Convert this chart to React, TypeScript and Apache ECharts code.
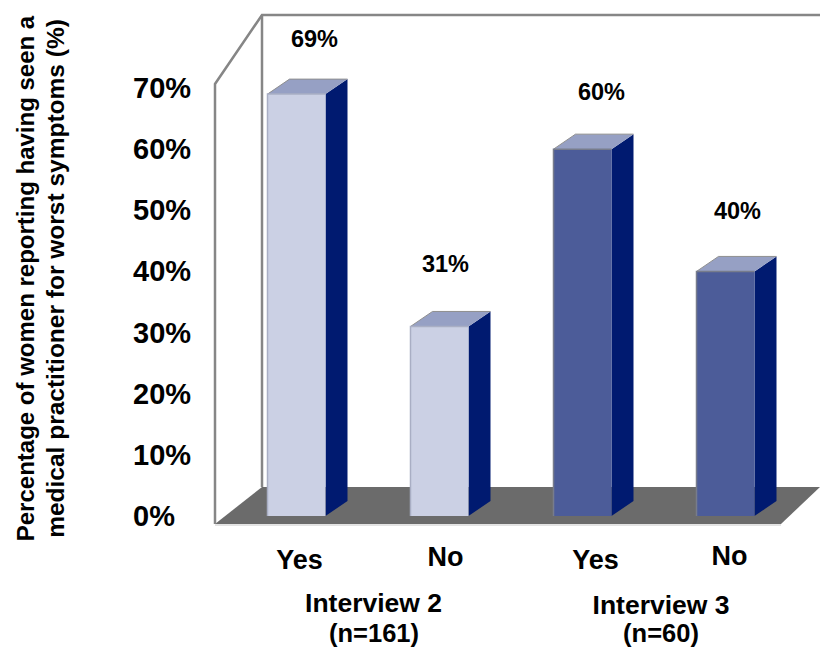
import React, { useEffect, useRef } from "react";
import * as echarts from "echarts";

const answers = ["Yes", "No", "Yes", "No"];
const percentages = [69, 31, 60, 40];
const percentLabels = ["69%", "31%", "60%", "40%"];
const tickStep = 10;
const axisMax = 70;
const interviewOfBar = [0, 0, 1, 1];
const interviewTitles = ["Interview 2\n(n=161)", "Interview 3\n(n=60)"];
const titleLines = [
  "Percentage of women reporting having seen a",
  "medical practitioner for worst symptoms (%)",
];

const FONT = "Liberation Sans";
const GRID = { left: 225, width: 572, top: 88, height: 428 };
const BAR_W = 58;
const DEPTH = { x: 22, y: -15 };
const FRONT = ["#cbd0e4", "#4c5c99"];
const EDGE = ["#a9aec4", "#777c8c"];
const TOP = "#96a0c4";
const SIDE = "#001a70";
const WALL = "#868686";
const FLOOR = "#6b6b6b";
// label placement relative to each bar's front top-centre
const labelOffsets = [
  [18, -55],
  [6, -62],
  [19, -57],
  [12, -60],
];
const catShift = [3, 6, 13, 4];
const catDrop = [4.5, 1.5, 4.5, 0];

const renderBar = (params: any, api: any) => {
  const i = api.value(0);
  const v = api.value(1);
  const [cx, base] = api.coord([i, 0]);
  const [, top] = api.coord([i, v]);
  const l = cx - BAR_W / 2;
  const r = cx + BAR_W / 2;
  const g = interviewOfBar[i];
  const off = labelOffsets[i];
  return {
    type: "group",
    children: [
      {
        type: "polygon",
        shape: { points: [[r, top], [r + DEPTH.x, top + DEPTH.y], [r + DEPTH.x, base + DEPTH.y], [r, base]] },
        style: { fill: SIDE },
      },
      {
        type: "polygon",
        shape: { points: [[l, top], [l + DEPTH.x, top + DEPTH.y], [r + DEPTH.x, top + DEPTH.y], [r, top]] },
        style: { fill: TOP },
      },
      {
        type: "polyline",
        shape: { points: [[l, top], [l + DEPTH.x, top + DEPTH.y], [r + DEPTH.x, top + DEPTH.y]] },
        style: { fill: "none", stroke: "#8f8f8f", lineWidth: 1 },
      },
      {
        type: "rect",
        shape: { x: l, y: top, width: BAR_W, height: base - top },
        style: { fill: FRONT[g] },
      },
      {
        type: "polyline",
        shape: { points: [[l, base], [l, top], [r, top]] },
        style: { fill: "none", stroke: EDGE[g], lineWidth: 1.5 },
      },
      {
        type: "text",
        x: cx + off[0],
        y: top + off[1],
        style: {
          text: percentLabels[i],
          fontFamily: FONT,
          fontWeight: "bold",
          fontSize: 23.5,
          fill: "#000",
          align: "center",
          verticalAlign: "middle",
        },
      },
    ],
  };
};

const bold = (text: string, x: number, y: number, fontSize: number, extra: any = {}) => ({
  type: "text",
  x,
  y,
  ...extra,
  style: {
    text,
    fontFamily: FONT,
    fontWeight: "bold",
    fontSize,
    fill: "#000",
    align: "center",
    verticalAlign: "middle",
  },
});

export default function App() {
  const ref = useRef<HTMLDivElement>(null);
  useEffect(() => {
    const chart = echarts.init(ref.current!, null, { renderer: "svg" });
    chart.setOption({
      animation: false,
      backgroundColor: "#fff",
      grid: { ...GRID, containLabel: false },
      xAxis: {
        type: "category",
        data: answers.map((a, i) => ({
          value: a,
          textStyle: { padding: [catDrop[i], 0, 0, catShift[i] * 2] },
        })),
        axisLine: { show: false },
        axisTick: { show: false },
        splitLine: { show: false },
        axisLabel: {
          fontFamily: FONT,
          fontWeight: "bold",
          fontSize: 27,
          color: "#000",
          margin: 26,
          interval: 0,
        },
      },
      yAxis: {
        type: "value",
        min: 0,
        max: axisMax,
        interval: tickStep,
        axisLine: { show: false },
        axisTick: { show: false },
        splitLine: { show: false },
        axisLabel: {
          formatter: "{value}%",
          fontFamily: FONT,
          fontWeight: "bold",
          fontSize: 29,
          color: "#000",
          align: "left",
          margin: 92,
          padding: [0, 0, 6, 0],
        },
      },
      graphic: [
        {
          type: "polygon",
          z: -1,
          shape: { points: [[215, 524], [262, 487], [820, 487], [781, 524]] },
          style: { fill: FLOOR },
        },
        {
          type: "line",
          z: -1,
          shape: { x1: 215, y1: 525, x2: 781, y2: 525 },
          style: { stroke: "#c8c8c8", lineWidth: 1 },
        },
        {
          type: "polyline",
          z: -1,
          shape: { points: [[215, 524], [215, 84], [262, 15], [820, 15]] },
          style: { fill: "none", stroke: WALL, lineWidth: 2.5 },
        },
        {
          type: "line",
          z: -1,
          shape: { x1: 262, y1: 15, x2: 262, y2: 487 },
          style: { stroke: WALL, lineWidth: 2.5 },
        },
        bold(titleLines[0], 25, 278.5, 24, { rotation: Math.PI / 2 }),
        bold(titleLines[1], 55, 278.5, 24.5, { rotation: Math.PI / 2 }),
        bold(interviewTitles[0].split("\n")[0], 373.5, 603, 26.5),
        bold(interviewTitles[0].split("\n")[1], 374, 633, 25.5),
        bold(interviewTitles[1].split("\n")[0], 661, 605, 26.5),
        bold(interviewTitles[1].split("\n")[1], 661, 633, 25.5),
      ],
      series: [
        {
          type: "custom",
          coordinateSystem: "cartesian2d",
          renderItem: renderBar,
          encode: { x: 0, y: 1 },
          data: percentages.map((v, i) => [i, v]),
          silent: true,
        },
      ],
    });
    return () => chart.dispose();
  }, []);
  return (
    <div
      ref={ref}
      style={{ position: "fixed", left: 0, top: 0, width: 820, height: 648 }}
    />
  );
}
